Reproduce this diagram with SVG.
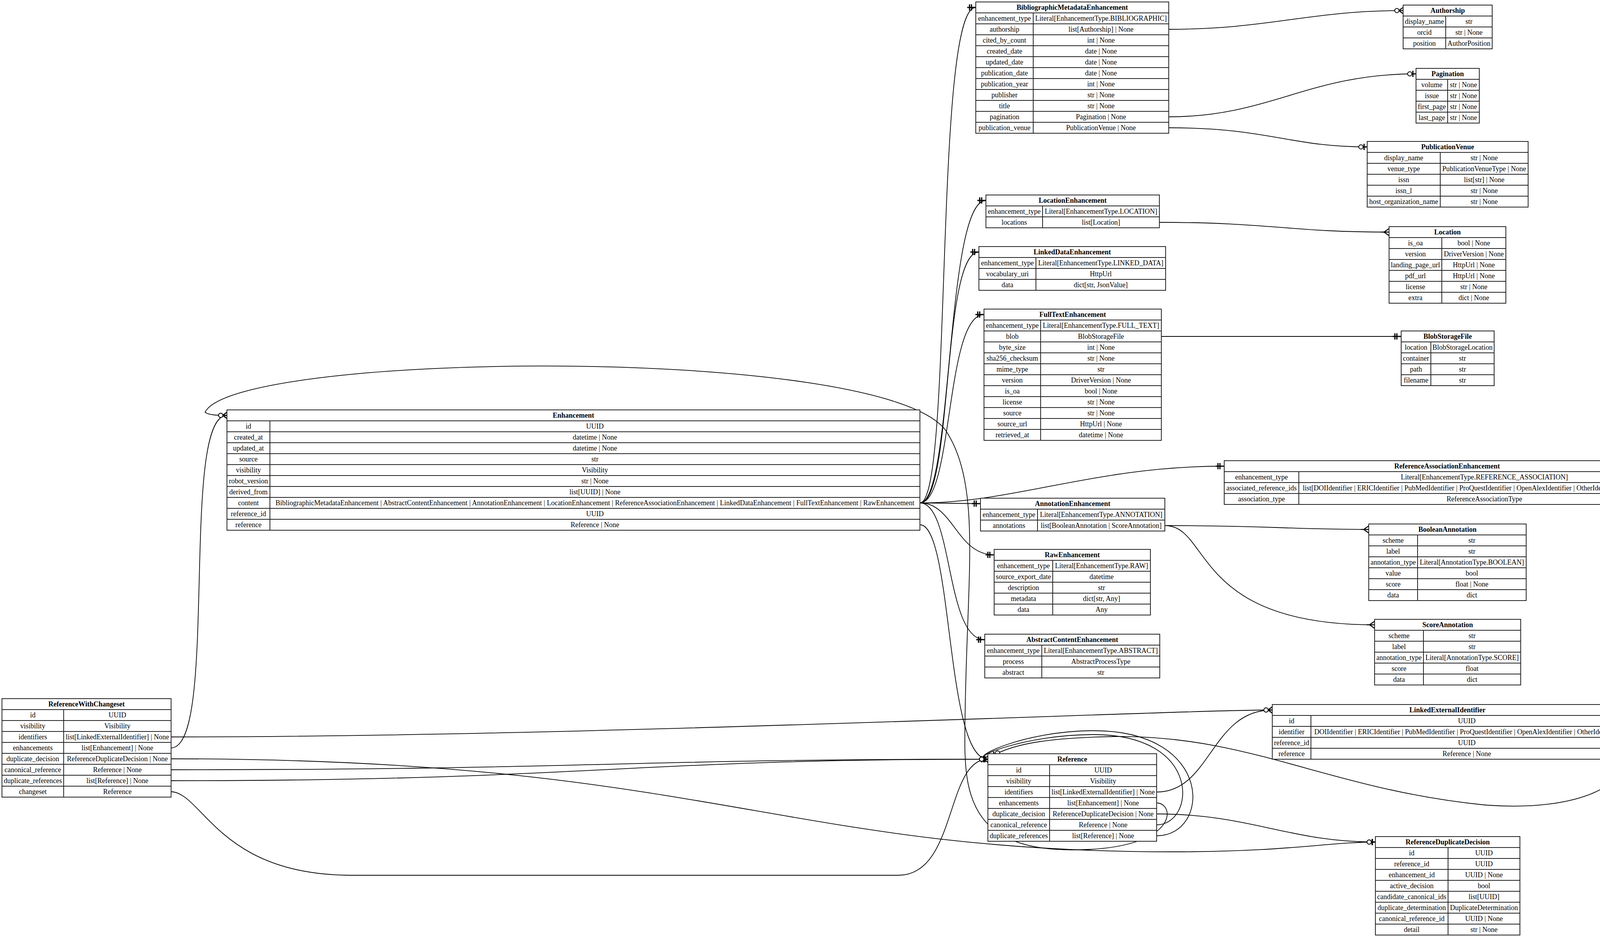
<svg xmlns="http://www.w3.org/2000/svg" width="4891" height="2398" viewBox="0 0 4891 2398">
<style>
.t{fill:#fff;stroke:#222;stroke-width:2}
.g{fill:none;stroke:#222;stroke-width:2}
.h{font-family:"Liberation Serif",serif;font-size:18px;font-weight:bold;text-anchor:middle;fill:#000}
.c{font-family:"Liberation Serif",serif;font-size:18px;text-anchor:middle;fill:#000}
.e{fill:none;stroke:#000;stroke-width:1.8}
.m{fill:#fff;stroke:#000;stroke-width:2}
</style>
<defs>
<marker id="one" viewBox="-22 -10 24 20" refX="0" refY="0" markerWidth="24" markerHeight="20" markerUnits="userSpaceOnUse" orient="auto"><path d="M-16,-8V8M-11,-8V8M-22,0H0" stroke="#000" stroke-width="3" fill="none"/></marker>
<marker id="zo" viewBox="-26 -10 28 20" refX="0" refY="0" markerWidth="28" markerHeight="20" markerUnits="userSpaceOnUse" orient="auto"><path d="M-10,0H0M-8,-8V8" stroke="#000" stroke-width="3" fill="none"/><circle cx="-16" cy="0" r="5.5" class="m"/></marker>
<marker id="zm" viewBox="-26 -10 28 20" refX="0" refY="0" markerWidth="28" markerHeight="20" markerUnits="userSpaceOnUse" orient="auto"><path d="M0,-8L-11,0L0,8M-11,0H0" stroke="#000" stroke-width="2.5" fill="none"/><circle cx="-16" cy="0" r="5.5" class="m"/></marker>
<marker id="many" viewBox="-20 -10 22 20" refX="0" refY="0" markerWidth="22" markerHeight="20" markerUnits="userSpaceOnUse" orient="auto"><path d="M0,-9L-13,0L0,9M-20,0H0" stroke="#000" stroke-width="2.5" fill="none"/></marker>
<marker id="om" viewBox="-24 -10 26 20" refX="0" refY="0" markerWidth="26" markerHeight="20" markerUnits="userSpaceOnUse" orient="auto"><path d="M0,-8L-11,0L0,8M-24,0H0M-18,-8V8M-14,-8V8" stroke="#000" stroke-width="2.8" fill="none"/></marker>
</defs>
<rect width="4891" height="2398" fill="#fff"/>

<g id="connectors">
<path class="e" marker-end="url(#zm)" d="M2992,75 C3250,75 3350,27 3592,27"/>
<path class="e" marker-end="url(#zo)" d="M2992,299 C3250,299 3350,189 3625,189"/>
<path class="e" marker-end="url(#zo)" d="M2992,327 C3250,327 3300,376 3500,376"/>
<path class="e" marker-end="url(#many)" d="M2968,569 C3250,569 3300,594 3556,594"/>
<path class="e" marker-end="url(#one)" d="M2973,861 L3587,861"/>
<path class="e" marker-end="url(#one)" d="M2355,1287 C2440,1287 2390,19 2498,19"/>
<path class="e" marker-end="url(#one)" d="M2355,1287 C2440,1287 2420,513 2524,513"/>
<path class="e" marker-end="url(#one)" d="M2355,1287 C2440,1287 2410,645 2506,645"/>
<path class="e" marker-end="url(#one)" d="M2355,1287 C2440,1287 2420,805 2519,805"/>
<path class="e" marker-end="url(#one)" d="M2355,1287 C2600,1287 2800,1193 3134,1193"/>
<path class="e" marker-end="url(#one)" d="M2355,1287 L2510,1289"/>
<path class="e" marker-end="url(#one)" d="M2355,1287 C2440,1287 2450,1420 2545,1420"/>
<path class="e" marker-end="url(#one)" d="M2355,1287 C2440,1287 2420,1637 2521,1637"/>
<path class="e" marker-end="url(#many)" d="M2982,1345 C3250,1345 3300,1355 3504,1355"/>
<path class="e" marker-end="url(#many)" d="M2982,1345 C3100,1345 3050,1599 3519,1599"/>
<path class="e" marker-end="url(#om)" d="M4275,1249 C4340,1249 4350,1217 4419,1217"/>
<path class="e" marker-end="url(#om)" d="M4275,1249 C4350,1249 4340,1380 4425,1380"/>
<path class="e" marker-end="url(#om)" d="M4275,1249 C4370,1249 4340,1511 4448,1511"/>
<path class="e" marker-end="url(#om)" d="M4275,1249 C4380,1249 4350,1644 4460,1644"/>
<path class="e" marker-end="url(#om)" d="M4275,1249 C4390,1249 4340,1775 4456,1775"/>
<path class="e" marker-end="url(#om)" d="M4275,1249 C4400,1249 4300,1907 4424,1907"/>
<path class="e" marker-end="url(#om)" d="M4154,1873 C4300,1873 4300,1217 4419,1217"/>
<path class="e" marker-end="url(#om)" d="M4154,1873 C4310,1873 4300,1380 4425,1380"/>
<path class="e" marker-end="url(#om)" d="M4154,1873 C4320,1873 4320,1511 4448,1511"/>
<path class="e" marker-end="url(#om)" d="M4154,1873 C4330,1873 4330,1644 4460,1644"/>
<path class="e" marker-end="url(#om)" d="M4154,1873 C4330,1873 4330,1775 4456,1775"/>
<path class="e" marker-end="url(#om)" d="M4154,1873 C4300,1873 4300,1907 4424,1907"/>
<path class="e" marker-end="url(#zm)" d="M438,1886 C1500,1886 3000,1817 3257,1817"/>
<path class="e" marker-end="url(#zm)" d="M438,1914 C560,1914 460,1063 581,1063"/>
<path class="e" marker-end="url(#zo)" d="M438,1942 C1800,1942 2000,2180 3000,2180 C3300,2180 3400,2155 3521,2155"/>
<path class="e" marker-end="url(#zo)" d="M438,1970 C1500,1970 1600,1943 2529,1943"/>
<path class="e" marker-end="url(#zm)" d="M438,1998 C1500,1998 1600,1943 2529,1943"/>
<path class="e" marker-end="url(#one)" d="M438,2026 C520,2030 560,2240 900,2240 L2300,2240 C2450,2240 2420,1943 2529,1943"/>
<path class="e" marker-end="url(#zo)" d="M2355,1343 C2440,1343 2420,1943 2529,1943"/>
<path class="e" marker-end="url(#zo)" d="M4154,1929 C4180,2000 4050,2080 3800,2060 C3400,2020 3200,1880 2850,1885 C2700,1888 2600,1900 2540,1935"/>
<path class="e" marker-end="url(#zm)" d="M2961,2027 C3100,2027 3100,1817 3257,1817"/>
<path class="e" marker-end="url(#zm)" d="M2961,2055 C3010,2055 3020,2175 2745,2175 C2500,2175 2470,2050 2470,1900 C2470,1500 2520,1250 2420,1100 C2250,880 600,900 525,1055 C535,1063 560,1063 581,1063"/>
<path class="e" marker-end="url(#zo)" d="M2961,2083 C3200,2083 3300,2155 3521,2155"/>
<path class="e" marker-end="url(#zo)" d="M2961,2111 C3060,2111 3080,1880 2800,1880 C2620,1880 2470,1943 2529,1943"/>
<path class="e" marker-end="url(#zm)" d="M2961,2139 C3100,2139 3110,1870 2800,1870 C2620,1870 2470,1943 2529,1943"/>
</g>

<g id="BibliographicMetadataEnhancement">
<rect class="t" x="2498" y="5" width="494" height="336"/>
<path class="g" d="M2498,33H2992M2498,61H2992M2498,89H2992M2498,117H2992M2498,145H2992M2498,173H2992M2498,201H2992M2498,229H2992M2498,257H2992M2498,285H2992M2498,313H2992M2645,33V341"/>
<text class="h" x="2745" y="25">BibliographicMetadataEnhancement</text>
<text class="c" x="2571.5" y="53">enhancement_type</text><text class="c" x="2818.5" y="53">Literal[EnhancementType.BIBLIOGRAPHIC]</text>
<text class="c" x="2571.5" y="81">authorship</text><text class="c" x="2818.5" y="81">list[Authorship] | None</text>
<text class="c" x="2571.5" y="109">cited_by_count</text><text class="c" x="2818.5" y="109">int | None</text>
<text class="c" x="2571.5" y="137">created_date</text><text class="c" x="2818.5" y="137">date | None</text>
<text class="c" x="2571.5" y="165">updated_date</text><text class="c" x="2818.5" y="165">date | None</text>
<text class="c" x="2571.5" y="193">publication_date</text><text class="c" x="2818.5" y="193">date | None</text>
<text class="c" x="2571.5" y="221">publication_year</text><text class="c" x="2818.5" y="221">int | None</text>
<text class="c" x="2571.5" y="249">publisher</text><text class="c" x="2818.5" y="249">str | None</text>
<text class="c" x="2571.5" y="277">title</text><text class="c" x="2818.5" y="277">str | None</text>
<text class="c" x="2571.5" y="305">pagination</text><text class="c" x="2818.5" y="305">Pagination | None</text>
<text class="c" x="2571.5" y="333">publication_venue</text><text class="c" x="2818.5" y="333">PublicationVenue | None</text>
</g>

<g id="Authorship">
<rect class="t" x="3592" y="13" width="228" height="112"/>
<path class="g" d="M3592,41H3820M3592,69H3820M3592,97H3820M3701,41V125"/>
<text class="h" x="3706" y="33">Authorship</text>
<text class="c" x="3646.5" y="61">display_name</text><text class="c" x="3760.5" y="61">str</text>
<text class="c" x="3646.5" y="89">orcid</text><text class="c" x="3760.5" y="89">str | None</text>
<text class="c" x="3646.5" y="117">position</text><text class="c" x="3760.5" y="117">AuthorPosition</text>
</g>

<g id="Pagination">
<rect class="t" x="3625" y="175" width="162" height="140"/>
<path class="g" d="M3625,203H3787M3625,231H3787M3625,259H3787M3625,287H3787M3706,203V315"/>
<text class="h" x="3706" y="195">Pagination</text>
<text class="c" x="3665.5" y="223">volume</text><text class="c" x="3746.5" y="223">str | None</text>
<text class="c" x="3665.5" y="251">issue</text><text class="c" x="3746.5" y="251">str | None</text>
<text class="c" x="3665.5" y="279">first_page</text><text class="c" x="3746.5" y="279">str | None</text>
<text class="c" x="3665.5" y="307">last_page</text><text class="c" x="3746.5" y="307">str | None</text>
</g>

<g id="PublicationVenue">
<rect class="t" x="3500" y="362" width="412" height="168"/>
<path class="g" d="M3500,390H3912M3500,418H3912M3500,446H3912M3500,474H3912M3500,502H3912M3687,390V530"/>
<text class="h" x="3706" y="382">PublicationVenue</text>
<text class="c" x="3593.5" y="410">display_name</text><text class="c" x="3799.5" y="410">str | None</text>
<text class="c" x="3593.5" y="438">venue_type</text><text class="c" x="3799.5" y="438">PublicationVenueType | None</text>
<text class="c" x="3593.5" y="466">issn</text><text class="c" x="3799.5" y="466">list[str] | None</text>
<text class="c" x="3593.5" y="494">issn_l</text><text class="c" x="3799.5" y="494">str | None</text>
<text class="c" x="3593.5" y="522">host_organization_name</text><text class="c" x="3799.5" y="522">str | None</text>
</g>

<g id="LocationEnhancement">
<rect class="t" x="2524" y="499" width="444" height="84"/>
<path class="g" d="M2524,527H2968M2524,555H2968M2669,527V583"/>
<text class="h" x="2746" y="519">LocationEnhancement</text>
<text class="c" x="2596.5" y="547">enhancement_type</text><text class="c" x="2818.5" y="547">Literal[EnhancementType.LOCATION]</text>
<text class="c" x="2596.5" y="575">locations</text><text class="c" x="2818.5" y="575">list[Location]</text>
</g>

<g id="Location">
<rect class="t" x="3556" y="580" width="299" height="196"/>
<path class="g" d="M3556,608H3855M3556,636H3855M3556,664H3855M3556,692H3855M3556,720H3855M3556,748H3855M3691,608V776"/>
<text class="h" x="3705.5" y="600">Location</text>
<text class="c" x="3623.5" y="628">is_oa</text><text class="c" x="3773" y="628">bool | None</text>
<text class="c" x="3623.5" y="656">version</text><text class="c" x="3773" y="656">DriverVersion | None</text>
<text class="c" x="3623.5" y="684">landing_page_url</text><text class="c" x="3773" y="684">HttpUrl | None</text>
<text class="c" x="3623.5" y="712">pdf_url</text><text class="c" x="3773" y="712">HttpUrl | None</text>
<text class="c" x="3623.5" y="740">license</text><text class="c" x="3773" y="740">str | None</text>
<text class="c" x="3623.5" y="768">extra</text><text class="c" x="3773" y="768">dict | None</text>
</g>

<g id="LinkedDataEnhancement">
<rect class="t" x="2506" y="631" width="478" height="112"/>
<path class="g" d="M2506,659H2984M2506,687H2984M2506,715H2984M2652,659V743"/>
<text class="h" x="2745" y="651">LinkedDataEnhancement</text>
<text class="c" x="2579" y="679">enhancement_type</text><text class="c" x="2818" y="679">Literal[EnhancementType.LINKED_DATA]</text>
<text class="c" x="2579" y="707">vocabulary_uri</text><text class="c" x="2818" y="707">HttpUrl</text>
<text class="c" x="2579" y="735">data</text><text class="c" x="2818" y="735">dict[str, JsonValue]</text>
</g>

<g id="FullTextEnhancement">
<rect class="t" x="2519" y="791" width="454" height="336"/>
<path class="g" d="M2519,819H2973M2519,847H2973M2519,875H2973M2519,903H2973M2519,931H2973M2519,959H2973M2519,987H2973M2519,1015H2973M2519,1043H2973M2519,1071H2973M2519,1099H2973M2664,819V1127"/>
<text class="h" x="2746" y="811">FullTextEnhancement</text>
<text class="c" x="2591.5" y="839">enhancement_type</text><text class="c" x="2818.5" y="839">Literal[EnhancementType.FULL_TEXT]</text>
<text class="c" x="2591.5" y="867">blob</text><text class="c" x="2818.5" y="867">BlobStorageFile</text>
<text class="c" x="2591.5" y="895">byte_size</text><text class="c" x="2818.5" y="895">int | None</text>
<text class="c" x="2591.5" y="923">sha256_checksum</text><text class="c" x="2818.5" y="923">str | None</text>
<text class="c" x="2591.5" y="951">mime_type</text><text class="c" x="2818.5" y="951">str</text>
<text class="c" x="2591.5" y="979">version</text><text class="c" x="2818.5" y="979">DriverVersion | None</text>
<text class="c" x="2591.5" y="1007">is_oa</text><text class="c" x="2818.5" y="1007">bool | None</text>
<text class="c" x="2591.5" y="1035">license</text><text class="c" x="2818.5" y="1035">str | None</text>
<text class="c" x="2591.5" y="1063">source</text><text class="c" x="2818.5" y="1063">str | None</text>
<text class="c" x="2591.5" y="1091">source_url</text><text class="c" x="2818.5" y="1091">HttpUrl | None</text>
<text class="c" x="2591.5" y="1119">retrieved_at</text><text class="c" x="2818.5" y="1119">datetime | None</text>
</g>

<g id="BlobStorageFile">
<rect class="t" x="3587" y="847" width="238" height="140"/>
<path class="g" d="M3587,875H3825M3587,903H3825M3587,931H3825M3587,959H3825M3663,875V987"/>
<text class="h" x="3706" y="867">BlobStorageFile</text>
<text class="c" x="3625" y="895">location</text><text class="c" x="3744" y="895">BlobStorageLocation</text>
<text class="c" x="3625" y="923">container</text><text class="c" x="3744" y="923">str</text>
<text class="c" x="3625" y="951">path</text><text class="c" x="3744" y="951">str</text>
<text class="c" x="3625" y="979">filename</text><text class="c" x="3744" y="979">str</text>
</g>

<g id="Enhancement">
<rect class="t" x="581" y="1049" width="1774" height="308"/>
<path class="g" d="M581,1077H2355M581,1105H2355M581,1133H2355M581,1161H2355M581,1189H2355M581,1217H2355M581,1245H2355M581,1273H2355M581,1301H2355M581,1329H2355M691,1077V1357"/>
<text class="h" x="1468" y="1069">Enhancement</text>
<text class="c" x="636" y="1097">id</text><text class="c" x="1523" y="1097">UUID</text>
<text class="c" x="636" y="1125">created_at</text><text class="c" x="1523" y="1125">datetime | None</text>
<text class="c" x="636" y="1153">updated_at</text><text class="c" x="1523" y="1153">datetime | None</text>
<text class="c" x="636" y="1181">source</text><text class="c" x="1523" y="1181">str</text>
<text class="c" x="636" y="1209">visibility</text><text class="c" x="1523" y="1209">Visibility</text>
<text class="c" x="636" y="1237">robot_version</text><text class="c" x="1523" y="1237">str | None</text>
<text class="c" x="636" y="1265">derived_from</text><text class="c" x="1523" y="1265">list[UUID] | None</text>
<text class="c" x="636" y="1293">content</text><text class="c" x="1523" y="1293">BibliographicMetadataEnhancement | AbstractContentEnhancement | AnnotationEnhancement | LocationEnhancement | ReferenceAssociationEnhancement | LinkedDataEnhancement | FullTextEnhancement | RawEnhancement</text>
<text class="c" x="636" y="1321">reference_id</text><text class="c" x="1523" y="1321">UUID</text>
<text class="c" x="636" y="1349">reference</text><text class="c" x="1523" y="1349">Reference | None</text>
</g>

<g id="ReferenceAssociationEnhancement">
<rect class="t" x="3134" y="1179" width="1141" height="112"/>
<path class="g" d="M3134,1207H4275M3134,1235H4275M3134,1263H4275M3325,1207V1291"/>
<text class="h" x="3704.5" y="1199">ReferenceAssociationEnhancement</text>
<text class="c" x="3229.5" y="1227">enhancement_type</text><text class="c" x="3800" y="1227">Literal[EnhancementType.REFERENCE_ASSOCIATION]</text>
<text class="c" x="3229.5" y="1255">associated_reference_ids</text><text class="c" x="3800" y="1255">list[DOIIdentifier | ERICIdentifier | PubMedIdentifier | ProQuestIdentifier | OpenAlexIdentifier | OtherIdentifier | UUID | UUID]</text>
<text class="c" x="3229.5" y="1283">association_type</text><text class="c" x="3800" y="1283">ReferenceAssociationType</text>
</g>

<g id="AnnotationEnhancement">
<rect class="t" x="2510" y="1275" width="472" height="84"/>
<path class="g" d="M2510,1303H2982M2510,1331H2982M2656,1303V1359"/>
<text class="h" x="2746" y="1295">AnnotationEnhancement</text>
<text class="c" x="2583" y="1323">enhancement_type</text><text class="c" x="2819" y="1323">Literal[EnhancementType.ANNOTATION]</text>
<text class="c" x="2583" y="1351">annotations</text><text class="c" x="2819" y="1351">list[BooleanAnnotation | ScoreAnnotation]</text>
</g>

<g id="RawEnhancement">
<rect class="t" x="2545" y="1406" width="400" height="168"/>
<path class="g" d="M2545,1434H2945M2545,1462H2945M2545,1490H2945M2545,1518H2945M2545,1546H2945M2695,1434V1574"/>
<text class="h" x="2745" y="1426">RawEnhancement</text>
<text class="c" x="2620" y="1454">enhancement_type</text><text class="c" x="2820" y="1454">Literal[EnhancementType.RAW]</text>
<text class="c" x="2620" y="1482">source_export_date</text><text class="c" x="2820" y="1482">datetime</text>
<text class="c" x="2620" y="1510">description</text><text class="c" x="2820" y="1510">str</text>
<text class="c" x="2620" y="1538">metadata</text><text class="c" x="2820" y="1538">dict[str, Any]</text>
<text class="c" x="2620" y="1566">data</text><text class="c" x="2820" y="1566">Any</text>
</g>

<g id="AbstractContentEnhancement">
<rect class="t" x="2521" y="1623" width="448" height="112"/>
<path class="g" d="M2521,1651H2969M2521,1679H2969M2521,1707H2969M2667,1651V1735"/>
<text class="h" x="2745" y="1643">AbstractContentEnhancement</text>
<text class="c" x="2594" y="1671">enhancement_type</text><text class="c" x="2818" y="1671">Literal[EnhancementType.ABSTRACT]</text>
<text class="c" x="2594" y="1699">process</text><text class="c" x="2818" y="1699">AbstractProcessType</text>
<text class="c" x="2594" y="1727">abstract</text><text class="c" x="2818" y="1727">str</text>
</g>

<g id="BooleanAnnotation">
<rect class="t" x="3504" y="1341" width="403" height="196"/>
<path class="g" d="M3504,1369H3907M3504,1397H3907M3504,1425H3907M3504,1453H3907M3504,1481H3907M3504,1509H3907M3629,1369V1537"/>
<text class="h" x="3705.5" y="1361">BooleanAnnotation</text>
<text class="c" x="3566.5" y="1389">scheme</text><text class="c" x="3768" y="1389">str</text>
<text class="c" x="3566.5" y="1417">label</text><text class="c" x="3768" y="1417">str</text>
<text class="c" x="3566.5" y="1445">annotation_type</text><text class="c" x="3768" y="1445">Literal[AnnotationType.BOOLEAN]</text>
<text class="c" x="3566.5" y="1473">value</text><text class="c" x="3768" y="1473">bool</text>
<text class="c" x="3566.5" y="1501">score</text><text class="c" x="3768" y="1501">float | None</text>
<text class="c" x="3566.5" y="1529">data</text><text class="c" x="3768" y="1529">dict</text>
</g>

<g id="ScoreAnnotation">
<rect class="t" x="3519" y="1585" width="374" height="168"/>
<path class="g" d="M3519,1613H3893M3519,1641H3893M3519,1669H3893M3519,1697H3893M3519,1725H3893M3644,1613V1753"/>
<text class="h" x="3706" y="1605">ScoreAnnotation</text>
<text class="c" x="3581.5" y="1633">scheme</text><text class="c" x="3768.5" y="1633">str</text>
<text class="c" x="3581.5" y="1661">label</text><text class="c" x="3768.5" y="1661">str</text>
<text class="c" x="3581.5" y="1689">annotation_type</text><text class="c" x="3768.5" y="1689">Literal[AnnotationType.SCORE]</text>
<text class="c" x="3581.5" y="1717">score</text><text class="c" x="3768.5" y="1717">float</text>
<text class="c" x="3581.5" y="1745">data</text><text class="c" x="3768.5" y="1745">dict</text>
</g>

<g id="OtherIdentifier">
<rect class="t" x="4419" y="1203" width="467" height="112"/>
<path class="g" d="M4419,1231H4886M4419,1259H4886M4419,1287H4886M4588,1231V1315"/>
<text class="h" x="4652.5" y="1223">OtherIdentifier</text>
<text class="c" x="4503.5" y="1251">identifier</text><text class="c" x="4737" y="1251">str</text>
<text class="c" x="4503.5" y="1279">identifier_type</text><text class="c" x="4737" y="1279">Literal[ExternalIdentifierType.OTHER]</text>
<text class="c" x="4503.5" y="1307">other_identifier_name</text><text class="c" x="4737" y="1307">str</text>
</g>

<g id="ProQuestIdentifier">
<rect class="t" x="4425" y="1366" width="455" height="84"/>
<path class="g" d="M4425,1394H4880M4425,1422H4880M4540,1394V1450"/>
<text class="h" x="4652.5" y="1386">ProQuestIdentifier</text>
<text class="c" x="4482.5" y="1414">identifier</text><text class="c" x="4710" y="1414">str</text>
<text class="c" x="4482.5" y="1442">identifier_type</text><text class="c" x="4710" y="1442">Literal[ExternalIdentifierType.PRO_QUEST]</text>
</g>

<g id="PubMedIdentifier">
<rect class="t" x="4448" y="1497" width="408" height="84"/>
<path class="g" d="M4448,1525H4856M4448,1553H4856M4563,1525V1581"/>
<text class="h" x="4652" y="1517">PubMedIdentifier</text>
<text class="c" x="4505.5" y="1545">identifier</text><text class="c" x="4709.5" y="1545">int</text>
<text class="c" x="4505.5" y="1573">identifier_type</text><text class="c" x="4709.5" y="1573">Literal[ExternalIdentifierType.PM_ID]</text>
</g>

<g id="DOIIdentifier">
<rect class="t" x="4460" y="1630" width="384" height="84"/>
<path class="g" d="M4460,1658H4844M4460,1686H4844M4575,1658V1714"/>
<text class="h" x="4652" y="1650">DOIIdentifier</text>
<text class="c" x="4517.5" y="1678">identifier</text><text class="c" x="4709.5" y="1678">str</text>
<text class="c" x="4517.5" y="1706">identifier_type</text><text class="c" x="4709.5" y="1706">Literal[ExternalIdentifierType.DOI]</text>
</g>

<g id="ERICIdentifier">
<rect class="t" x="4456" y="1761" width="393" height="84"/>
<path class="g" d="M4456,1789H4849M4456,1817H4849M4571,1789V1845"/>
<text class="h" x="4652.5" y="1781">ERICIdentifier</text>
<text class="c" x="4513.5" y="1809">identifier</text><text class="c" x="4710" y="1809">str</text>
<text class="c" x="4513.5" y="1837">identifier_type</text><text class="c" x="4710" y="1837">Literal[ExternalIdentifierType.ERIC]</text>
</g>

<g id="OpenAlexIdentifier">
<rect class="t" x="4424" y="1893" width="456" height="84"/>
<path class="g" d="M4424,1921H4880M4424,1949H4880M4539,1921V1977"/>
<text class="h" x="4652" y="1913">OpenAlexIdentifier</text>
<text class="c" x="4481.5" y="1941">identifier</text><text class="c" x="4709.5" y="1941">str</text>
<text class="c" x="4481.5" y="1969">identifier_type</text><text class="c" x="4709.5" y="1969">Literal[ExternalIdentifierType.OPEN_ALEX]</text>
</g>

<g id="ReferenceWithChangeset">
<rect class="t" x="5" y="1788" width="433" height="252"/>
<path class="g" d="M5,1816H438M5,1844H438M5,1872H438M5,1900H438M5,1928H438M5,1956H438M5,1984H438M5,2012H438M163,1816V2040"/>
<text class="h" x="221.5" y="1808">ReferenceWithChangeset</text>
<text class="c" x="84" y="1836">id</text><text class="c" x="300.5" y="1836">UUID</text>
<text class="c" x="84" y="1864">visibility</text><text class="c" x="300.5" y="1864">Visibility</text>
<text class="c" x="84" y="1892">identifiers</text><text class="c" x="300.5" y="1892">list[LinkedExternalIdentifier] | None</text>
<text class="c" x="84" y="1920">enhancements</text><text class="c" x="300.5" y="1920">list[Enhancement] | None</text>
<text class="c" x="84" y="1948">duplicate_decision</text><text class="c" x="300.5" y="1948">ReferenceDuplicateDecision | None</text>
<text class="c" x="84" y="1976">canonical_reference</text><text class="c" x="300.5" y="1976">Reference | None</text>
<text class="c" x="84" y="2004">duplicate_references</text><text class="c" x="300.5" y="2004">list[Reference] | None</text>
<text class="c" x="84" y="2032">changeset</text><text class="c" x="300.5" y="2032">Reference</text>
</g>

<g id="Reference">
<rect class="t" x="2529" y="1929" width="432" height="224"/>
<path class="g" d="M2529,1957H2961M2529,1985H2961M2529,2013H2961M2529,2041H2961M2529,2069H2961M2529,2097H2961M2529,2125H2961M2687,1957V2153"/>
<text class="h" x="2745" y="1949">Reference</text>
<text class="c" x="2608" y="1977">id</text><text class="c" x="2824" y="1977">UUID</text>
<text class="c" x="2608" y="2005">visibility</text><text class="c" x="2824" y="2005">Visibility</text>
<text class="c" x="2608" y="2033">identifiers</text><text class="c" x="2824" y="2033">list[LinkedExternalIdentifier] | None</text>
<text class="c" x="2608" y="2061">enhancements</text><text class="c" x="2824" y="2061">list[Enhancement] | None</text>
<text class="c" x="2608" y="2089">duplicate_decision</text><text class="c" x="2824" y="2089">ReferenceDuplicateDecision | None</text>
<text class="c" x="2608" y="2117">canonical_reference</text><text class="c" x="2824" y="2117">Reference | None</text>
<text class="c" x="2608" y="2145">duplicate_references</text><text class="c" x="2824" y="2145">list[Reference] | None</text>
</g>

<g id="LinkedExternalIdentifier">
<rect class="t" x="3257" y="1803" width="897" height="140"/>
<path class="g" d="M3257,1831H4154M3257,1859H4154M3257,1887H4154M3257,1915H4154M3356,1831V1943"/>
<text class="h" x="3705.5" y="1823">LinkedExternalIdentifier</text>
<text class="c" x="3306.5" y="1851">id</text><text class="c" x="3755" y="1851">UUID</text>
<text class="c" x="3306.5" y="1879">identifier</text><text class="c" x="3755" y="1879">DOIIdentifier | ERICIdentifier | PubMedIdentifier | ProQuestIdentifier | OpenAlexIdentifier | OtherIdentifier</text>
<text class="c" x="3306.5" y="1907">reference_id</text><text class="c" x="3755" y="1907">UUID</text>
<text class="c" x="3306.5" y="1935">reference</text><text class="c" x="3755" y="1935">Reference | None</text>
</g>

<g id="ReferenceDuplicateDecision">
<rect class="t" x="3521" y="2141" width="370" height="252"/>
<path class="g" d="M3521,2169H3891M3521,2197H3891M3521,2225H3891M3521,2253H3891M3521,2281H3891M3521,2309H3891M3521,2337H3891M3521,2365H3891M3707,2169V2393"/>
<text class="h" x="3706" y="2161">ReferenceDuplicateDecision</text>
<text class="c" x="3614" y="2189">id</text><text class="c" x="3799" y="2189">UUID</text>
<text class="c" x="3614" y="2217">reference_id</text><text class="c" x="3799" y="2217">UUID</text>
<text class="c" x="3614" y="2245">enhancement_id</text><text class="c" x="3799" y="2245">UUID | None</text>
<text class="c" x="3614" y="2273">active_decision</text><text class="c" x="3799" y="2273">bool</text>
<text class="c" x="3614" y="2301">candidate_canonical_ids</text><text class="c" x="3799" y="2301">list[UUID]</text>
<text class="c" x="3614" y="2329">duplicate_determination</text><text class="c" x="3799" y="2329">DuplicateDetermination</text>
<text class="c" x="3614" y="2357">canonical_reference_id</text><text class="c" x="3799" y="2357">UUID | None</text>
<text class="c" x="3614" y="2385">detail</text><text class="c" x="3799" y="2385">str | None</text>
</g>
</svg>
